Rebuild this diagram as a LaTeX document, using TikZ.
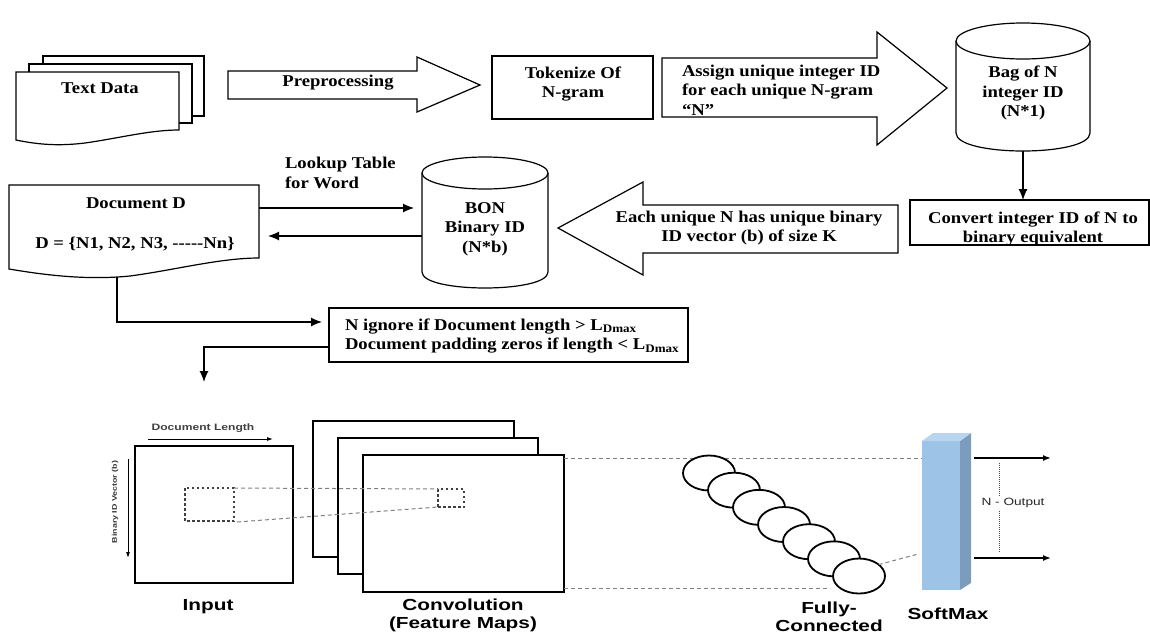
\documentclass[tikz,border=0pt]{standalone}
\usepackage{fontspec}
\setmainfont[FakeStretch=1.13]{Liberation Serif}
\newfontfamily\lblfont[FakeStretch=1.3]{Liberation Sans}
\usetikzlibrary{arrows.meta,calc,shapes.geometric}
\definecolor{smfront}{HTML}{9DC3E6}
\definecolor{smside}{HTML}{7C9CBE}
\definecolor{smtop}{HTML}{B8D4EE}
\newcommand\mycyl[5]{%
  \fill[white] (#1,#3) -- (#1,#4) .. controls (#1,{#4+1.333*#5}) and (#2,{#4+1.333*#5}) .. (#2,#4) -- (#2,#3) -- cycle;
  \draw[line width=1.2pt] (#1,#3) -- (#1,#4) .. controls (#1,{#4+1.333*#5}) and (#2,{#4+1.333*#5}) .. (#2,#4) -- (#2,#3);
  \draw[line width=1.2pt, fill=white] ({(#1+#2)/2},#3) ellipse [x radius={(#2-#1)/2}, y radius=#5];
}
\begin{document}
\begin{tikzpicture}[x=1pt,y=-1pt,
  every node/.style={inner sep=0pt, outer sep=0pt},
  serif/.style={font=\fontsize{16.5}{19.5}\selectfont\bfseries, align=center},
  ln/.style={line width=1.2pt},
  arr/.style={line width=1.2pt, -{Latex[length=11pt,width=9pt]}},
  box/.style={draw, line width=1.2pt, fill=white},
  gdash/.style={draw=black!50, line width=1pt, dash pattern=on 4pt off 3pt},
  thk/.style={line width=1.8pt},
  lbl/.style={font=\lblfont\fontsize{16}{18}\selectfont\bfseries, align=center},
]
\useasboundingbox (0,0) rectangle (1150,635);
\coordinate (y208) at (0,208);
\coordinate (y236) at (0,236);
\coordinate (y322) at (0,322);
\coordinate (y347) at (0,347);

% ---------- Text Data ----------
\draw[ln, fill=white] (43,56) rectangle (204,116);
\draw[ln, fill=white] (29,64) rectangle (192,123);
\draw[ln, fill=white] (16,72) -- (179,72) -- (179,130) .. controls (150,130) and (120,138) .. (85,143) .. controls (60,146) and (40,145) .. (16,140) -- cycle;
\node[serif] (textdata) at (100,88) {Text Data};

% ---------- Preprocessing arrow ----------
\draw[ln, fill=white] (228,71) -- (417,71) -- (417,57) -- (480,85) -- (417,112) -- (417,99) -- (228,99) -- cycle;
\node[serif] (prep) at (338,83) {Preprocessing};

% ---------- Tokenize ----------
\node[box, minimum width=161, minimum height=63] (tok) at (572.5,87.5) {};
\node[serif] (tokt) at (573,84) {Tokenize Of\\N-gram};

% ---------- Assign arrow ----------
\draw[ln, fill=white] (662,58) -- (877,58) -- (877,32) -- (947,88) -- (877,145) -- (877,117) -- (662,117) -- cycle;
\node[serif, align=left, anchor=west] (assign) at (682,90) {Assign unique integer ID\\for each unique N-gram\\“N”};

% ---------- Bag of N ----------
\mycyl{956}{1090}{41}{133}{18}
\node[minimum width=134, minimum height=128] (bag) at (1023,87) {};
\node[serif] (bagt) at (1023,93) {Bag of N\\integer ID\\(N*1)};

% ---------- Convert ----------
\node[box, minimum width=239, minimum height=45] (conv) at (1029.5,222.5) {};
\node[serif] (convt) at (1033,229) {Convert integer ID of N to\\binary equivalent};
\draw[arr] (bag.south) -- (bag.south |- conv.north);

% ---------- BON ----------
\mycyl{422}{548}{173}{272}{16}
\node[minimum width=126, minimum height=131] (bon) at (485,222.5) {};
\node[serif] (bont) at (485,229) {BON\\Binary ID\\(N*b)};

% ---------- Each unique arrow ----------
\draw[ln, fill=white] (898,205) -- (643,205) -- (643,182) -- (558,228) -- (643,275) -- (643,253) -- (898,253) -- cycle;
\node[serif] (each) at (749,228) {Each unique N has unique binary\\ID vector (b) of size K};

% ---------- Document D ----------
\draw[ln, fill=white] (9,185) -- (259,185) -- (259,258) .. controls (220,258) and (175,270) .. (130,276) .. controls (90,280) and (50,276) .. (9,269) -- cycle;
\node[minimum width=250, minimum height=84] (docd) at (134,227) {};
\node[serif] (docdt) at (136,203) {Document D};
\node[serif] (docdset) at (135,244) {D = \{N1, N2, N3, {-}{-}{-}{-}{-}Nn\}};
\node[serif, align=left, anchor=west] (lookup) at (285,173) {Lookup Table\\for Word};

\draw[arr, shorten >=8pt] (docd.east |- y208) -- (bon.west |- y208);
\draw[arr, shorten >=9pt] (bon.west |- y236) -- (docd.east |- y236);

% ---------- N ignore box ----------
\node[box, minimum width=359, minimum height=54] (nbox) at (508.5,335) {};
\node[serif, align=left, anchor=west] (nboxt) at (345,336) {N ignore if Document length > L\textsubscript{Dmax}\\Document padding zeros if length < L\textsubscript{Dmax}};

\coordinate (docbot) at (117,277);
\draw[arr, shorten >=7pt] (docbot) |- (nbox.west |- y322);
\coordinate (inarr) at (204,382);
\draw[arr] (nbox.west |- y347) -| (inarr);

% ---------- Input ----------
\node[draw, thk, minimum width=158, minimum height=137] (inp) at (214,514.5) {};
\node[font=\lblfont\fontsize{9.3}{11}\selectfont\bfseries, text=black!75] (doclen) at (203,428) {Document Length};
\coordinate (dl1) at (148,439);
\coordinate (dl2) at (273,439);
\draw[line width=0.9pt, -{Latex[length=6pt,width=4pt]}] (dl1) -- (dl2);
\coordinate (bv1) at (128,459);
\coordinate (bv2) at (128,558);
\draw[line width=0.9pt, -{Latex[length=6pt,width=4pt]}] (bv1) -- (bv2);
\node[rotate=90, font=\lblfont\fontsize{6.8}{8}\selectfont\bfseries, text=black!80] (bidv) at (115,502) {Binary ID Vector (b)};
\draw[line width=1.5pt, black!75, dash pattern=on 2.5pt off 2.5pt] (185,488) rectangle (234,521);

% ---------- Feature maps ----------
\node[draw, thk, fill=white, minimum width=201, minimum height=136] (fm1) at (413.5,489) {};
\node[draw, thk, fill=white, minimum width=200, minimum height=136] (fm2) at (438,506) {};
\node[draw, thk, fill=white, minimum width=201, minimum height=137] (fm3) at (463.5,523.5) {};
\node[draw=black!75, line width=1.5pt, dash pattern=on 2.5pt off 2.5pt, minimum width=26, minimum height=18] (fmk) at (451,498) {};
\coordinate (k1) at (234,488);
\coordinate (k2) at (237,522);
\draw[gdash] (k1) -- (fmk.north west);
\draw[gdash] (k2) -- (fmk.south west);

% ---------- dashed to FC / softmax ----------
\coordinate (smTop) at (922,458);
\coordinate (fcBot) at (830,588);
\draw[gdash] (fm3.north east |- smTop) -- (smTop);
\draw[gdash] (fm3.south east |- fcBot) -- (fcBot);

% ---------- Fully connected ----------
\foreach \i in {0,...,6}{
  \node[ellipse, draw, thk, fill=white, minimum width=52, minimum height=35] (fc\i) at ({709+25*\i},{473+17.17*\i}) {};
}
\coordinate (smLow) at (918,554);
\draw[gdash] (fc6.30) -- (smLow);

% ---------- SoftMax ----------
\fill[smfront] (922,441) rectangle (960,590);
\fill[smside] (960,441) -- (971,433) -- (971,583) -- (960,590) -- cycle;
\fill[smtop] (922,441) -- (933,433) -- (971,433) -- (960,441) -- cycle;
\node[minimum width=38, minimum height=149] (smx) at (941,515.5) {};

\coordinate (o1s) at (974,458);
\coordinate (o1e) at (1051,458);
\coordinate (o2s) at (974,558);
\coordinate (o2e) at (1051,558);
\draw[line width=1.5pt, -{Latex[length=8pt,width=6pt]}] (o1s) -- (o1e);
\draw[line width=1.5pt, -{Latex[length=8pt,width=6pt]}] (o2s) -- (o2e);
\coordinate (dv1) at (999,463);
\coordinate (dv2) at (999,553);
\draw[black!70, line width=0.8pt, dash pattern=on 1pt off 1pt] (dv1) -- (dv2);
\node[fill=white, inner xsep=1pt, inner ysep=2pt, font=\lblfont\fontsize{10.5}{12}\selectfont, text=black!85] (nout) at (1013,503) {N - Output};

% ---------- labels ----------
\node[lbl] (linput) at (208,607) {Input};
\node[lbl] (lconv) at (463,615) {Convolution\\(Feature Maps)};
\node[lbl] (lfc) at (829,617) {Fully-\\Connected};
\node[lbl] (lsm) at (948,614) {SoftMax};
\end{tikzpicture}
\end{document}
